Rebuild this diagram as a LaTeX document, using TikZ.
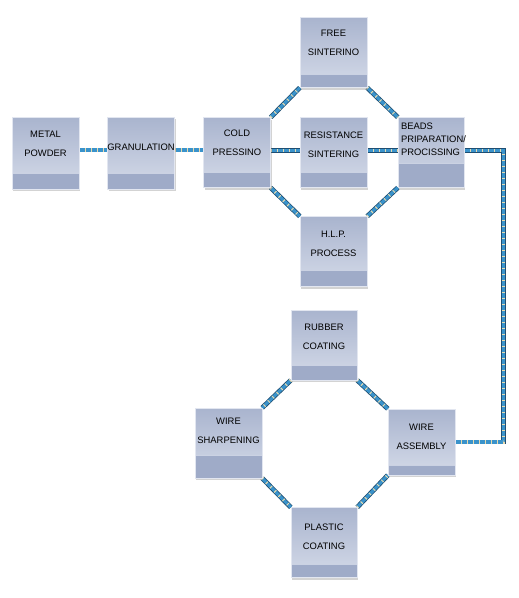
\documentclass[tikz,border=0pt]{standalone}
\usepackage{fontspec}
\setmainfont{Liberation Sans}
\usetikzlibrary{shadows,backgrounds}

\definecolor{boxtop}{HTML}{A9B4CE}
\definecolor{boxlow}{HTML}{D5DBE9}
\definecolor{bandfill}{HTML}{9FABC8}
\definecolor{bandline}{HTML}{CBD2E3}
\definecolor{linkdark}{HTML}{1E4E72}
\definecolor{linkblue}{HTML}{3A93CB}
\definecolor{linktan}{HTML}{E8DAAE}

\begin{document}
\begin{tikzpicture}[x=1pt, y=-1pt,
	stage/.style={rectangle, minimum width=67pt, minimum height=70pt, inner sep=0pt, top color=boxtop, bottom color=boxlow, draw=boxlow!70!white, line width=0.4pt, drop shadow={shadow xshift=1.2pt, shadow yshift=-2pt, opacity=0.35}},
	band/.style={path picture={
		\fill[bandfill] (path picture bounding box.south west) rectangle ([yshift=#1]path picture bounding box.south east);
		\draw[bandline, line width=0.8pt] ([yshift=#1]path picture bounding box.south west) -- ([yshift=#1]path picture bounding box.south east);}},
	caption/.style={align=center, font=\fontsize{9.4}{19}\selectfont, inner sep=0pt},
	link/.style={preaction={draw=linkdark, line width=4.8pt}, draw=linkblue, line width=3.2pt, postaction={draw=linktan, line width=3.2pt, dash pattern=on 1pt off 5pt}}]
	\useasboundingbox (0,0) rectangle (519,598);
	% upper chain
	\node[stage, band=16pt, minimum height=72pt] (metal) at (45.5,153) {};
	\node[caption] (metal-t) at ([yshift=-27.5pt]metal.north) {METAL\\POWDER};
	\node[stage, band=16pt, minimum height=72pt] (gran) at (141,153) {};
	\node[caption] (gran-t) at ([yshift=-30pt]gran.north) {GRANULATION};
	\node[stage, band=15pt] (cold) at (237,152.5) {};
	\node[caption] (cold-t) at ([yshift=-25.5pt]cold.north) {COLD\\PRESSINO};
	\node[stage, band=13pt] (free) at (333.5,52.5) {};
	\node[caption] (free-t) at ([yshift=-26pt]free.north) {FREE\\SINTERINO};
	\node[stage, band=15pt] (resist) at (333.5,152.5) {};
	\node[caption] (resist-t) at ([yshift=-27.5pt]resist.north) {RESISTANCE\\SINTERING};
	\node[stage, band=16pt] (hlp) at (333.5,251.5) {};
	\node[caption] (hlp-t) at ([yshift=-28pt]hlp.north) {H.L.P.\\PROCESS};
	\node[stage, band=24pt, minimum width=66pt] (beads) at (431,152.5) {};
	\node[caption, align=left, anchor=west, font=\fontsize{9.4}{13}\selectfont] (beads-t) at ([xshift=3pt,yshift=-22pt]beads.north west) {BEADS\\PRIPARATION/\\PROCISSING};
	% lower ring
	\node[stage, band=15pt, minimum width=66pt] (rubber) at (324,345) {};
	\node[caption] (rubber-t) at ([yshift=-27.5pt]rubber.north) {RUBBER\\COATING};
	\node[stage, band=23pt] (sharp) at (228.5,443) {};
	\node[caption] (sharp-t) at ([yshift=-23.5pt]sharp.north) {WIRE\\SHARPENING};
	\node[stage, band=10pt, minimum height=66pt] (assembly) at (421.5,442) {};
	\node[caption] (assembly-t) at ([yshift=-28pt]assembly.north) {WIRE\\ASSEMBLY};
	\node[stage, band=13pt, minimum width=66pt] (plastic) at (324,542.5) {};
	\node[caption] (plastic-t) at ([yshift=-29.5pt]plastic.north) {PLASTIC\\COATING};
	% connectors
	\begin{scope}[on background layer]
		\draw[link] ([yshift=3pt]metal.east) -- ([yshift=3pt]gran.west);
		\draw[link] ([yshift=3pt]gran.east) -- ([yshift=2.5pt]cold.west);
		\draw[link] ([yshift=2pt]cold.east) -- ([yshift=2pt]resist.west);
		\draw[link] ([yshift=2pt]resist.east) -- ([yshift=2pt]beads.west);
		\draw[link] (cold.north east) -- (free.south west);
		\draw[link] (free.south east) -- (beads.north west);
		\draw[link] (cold.south east) -- (hlp.north west);
		\draw[link] (hlp.north east) -- (beads.south west);
		\draw[link] ([yshift=2pt]beads.east) -- ++(39,0) |- (assembly.east);
		\draw[link] (rubber.south west) -- (sharp.north east);
		\draw[link] (rubber.south east) -- (assembly.north west);
		\draw[link] (sharp.south east) -- (plastic.north west);
		\draw[link] (plastic.north east) -- (assembly.south west);
	\end{scope}
\end{tikzpicture}
\end{document}
